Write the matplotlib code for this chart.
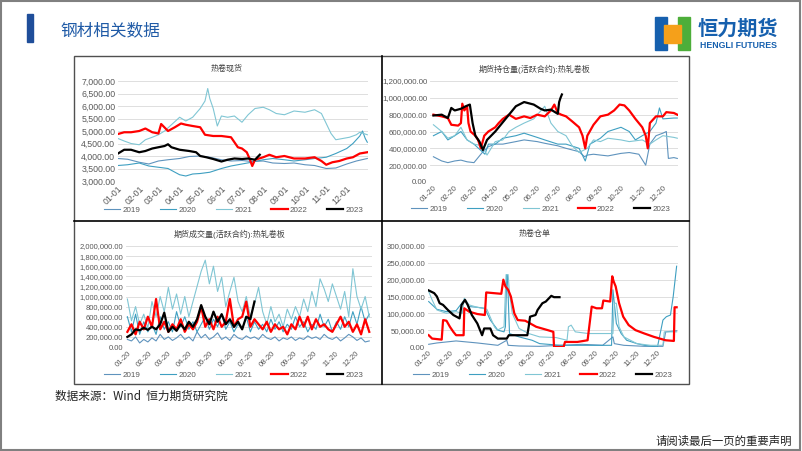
import numpy as np
import pandas as pd
import matplotlib
matplotlib.use('Agg')
import matplotlib.pyplot as plt
from matplotlib.patches import Rectangle
from matplotlib.lines import Line2D
from matplotlib.ticker import FuncFormatter

plt.rcParams['font.family'] = ['Liberation Sans', 'Noto Sans CJK SC', 'DejaVu Sans']

# ---------------- data ----------------
years = ['2019', '2020', '2021', '2022', '2023']

# 热卷现货 (元/吨)
spot_d19 = ['01-01','01-15','02-01','02-15','03-01','03-15','04-01','04-15','05-01','05-15','06-01','06-15',
            '07-01','07-15','08-01','08-15','09-01','09-15','10-01','10-15','11-01','11-15','12-01','12-15','12-31']
spot_v19 = [3900,3870,3750,3680,3800,3850,3900,3980,4000,3950,3850,3800,
            3820,3780,3800,3720,3700,3720,3650,3620,3500,3520,3680,3800,3900]
spot_d20 = ['01-01','01-15','02-01','02-15','03-01','03-15','04-01','04-10','04-20','05-01','05-15','06-01','06-15',
            '07-01','07-15','08-01','08-15','09-01','09-15','10-01','10-15','11-01','11-15','12-01','12-10','12-20',
            '12-24','12-28','12-31']
spot_v20 = [3620,3650,3720,3600,3550,3500,3250,3200,3280,3300,3350,3500,3600,
            3680,3750,3850,3900,3850,3800,3850,3900,3950,4100,4300,4500,4800,
            5000,4700,4550]
spot_d21 = ['01-01','01-10','01-20','02-01','02-10','02-20','03-01','03-10','03-20','04-01','04-10','04-20',
            '05-01','05-08','05-12','05-15','05-20','05-26','06-01','06-10','06-20','07-01','07-10','07-20',
            '08-01','08-10','08-20','09-01','09-15','10-01','10-15','10-25','11-01','11-08','11-15','11-25',
            '12-05','12-15','12-20','12-31']
spot_v21 = [4700,4600,4500,4450,4650,4750,4850,5000,5250,5550,5400,5550,
            5900,6200,6700,6300,5900,5200,5600,5550,5600,5350,5650,5900,
            5950,5850,5700,5650,5800,5750,5850,5700,5300,4900,4650,4700,
            4750,4850,4950,4850]
spot_d22 = ['01-01','01-10','01-20','02-01','02-10','02-20','03-01','03-05','03-15','03-25','04-03','04-10',
            '04-20','05-01','05-08','05-20','06-01','06-15','06-20','06-25','07-01','07-08','07-12','07-16',
            '07-20','08-01','08-10','08-20','09-01','09-15','10-01','10-15','10-25','11-01','11-10','11-20',
            '12-01','12-10','12-20','12-31']
spot_v22 = [4880,4950,4950,5000,5100,4950,4900,5280,5000,5150,5300,5250,
            5200,5150,4850,4800,4800,4750,4550,4350,4300,4150,3900,3600,
            3850,3950,4050,3950,4000,3900,3900,3950,3800,3650,3750,3800,
            3900,3950,4100,4150]
spot_d23 = ['01-01','01-10','01-20','02-01','02-10','02-20','03-01','03-10','03-15','03-20','04-01','04-15',
            '04-25','05-01','05-10','05-20','06-01','06-10','06-20','07-01','07-10','07-20','07-27']
spot_v23 = [4100,4250,4250,4150,4200,4300,4350,4400,4470,4350,4250,4200,
            4150,4000,3950,3880,3780,3850,3900,3880,3900,3850,4050]

# 期货持仓量 (千手)
oi_d19 = ['01-20','02-01','02-10','02-20','03-01','03-10','03-20','04-01','04-10','04-20','05-01','05-20',
          '06-01','06-20','07-01','07-20','08-01','08-20','08-28','09-01','09-10','09-20','10-01','10-20',
          '11-01','11-15','11-25','12-01','12-10','12-20','12-25','12-28','01-05','01-10']
oi_v19 = [300,250,230,250,260,240,230,350,420,450,450,480,
          500,480,460,430,400,360,300,320,330,320,310,340,
          350,330,200,450,550,580,600,280,290,280]
oi_d20 = ['01-20','02-01','02-10','02-20','03-01','03-10','03-20','04-05','04-10','04-20','05-01','05-20',
          '06-01','06-20','07-01','07-20','08-01','08-20','08-29','09-05','09-20','10-01','10-20','11-01',
          '11-10','11-20','12-01','12-10','12-15','12-20','01-05','01-10']
oi_v20 = [550,600,500,550,600,500,450,330,450,450,520,550,
          580,530,500,450,450,400,250,450,520,600,650,600,
          500,550,600,700,880,750,760,760]
oi_d21 = ['01-20','02-01','02-10','02-20','03-01','03-10','03-20','04-01','04-08','04-20','05-01','05-10',
          '05-20','06-01','06-15','07-01','07-10','07-20','08-01','08-10','08-20','09-01','09-10','09-20',
          '10-01','10-20','11-01','11-20','12-01','12-10','12-20','01-05','01-10']
oi_v21 = [680,600,520,550,650,500,450,430,320,480,500,600,
          650,700,750,900,700,600,550,430,350,400,500,480,
          520,500,480,500,450,500,550,530,520]
oi_d22 = ['01-20','02-01','02-10','02-15','02-25','03-01','03-03','03-06','03-10','03-12','03-15','03-22',
          '03-26','03-30','04-04','04-10','04-20','04-25','05-01','05-10','05-20','06-01','06-10','06-20',
          '07-01','07-10','07-15','07-20','07-25','08-01','08-10','08-20','08-25','08-29','09-01','09-10',
          '09-20','10-01','10-10','10-18','10-25','11-01','11-10','11-20','11-25','11-28','12-01','12-10',
          '12-20','12-25','01-05','01-10']
oi_v22 = [800,780,760,680,670,700,930,850,900,700,600,550,
          500,400,550,600,650,700,750,800,750,780,760,800,
          780,850,920,820,800,780,720,650,550,400,550,680,
          780,800,850,920,910,850,750,650,550,400,700,780,
          780,830,820,800]
oi_d23 = ['01-20','02-01','02-10','02-15','02-20','03-01','03-08','03-14','03-18','03-22','03-28','04-02',
          '04-08','04-20','04-30','05-10','05-15','05-20','06-01','06-15','06-25','07-01','07-10','07-18',
          '07-20','07-22','07-24','07-26']
oi_v23 = [790,800,760,880,850,870,900,920,700,550,480,380,
          500,600,700,800,850,900,950,920,870,850,860,820,
          810,950,1000,1040]

# 期货成交量 (千手), sampled every 6 days from 01-20
vol_start = '01-20'
vol_step = 6
vol_v19 = [150,120,200,80,150,100,180,120,250,150,200,130,180,250,150,200,120,300,180,250,
           150,200,280,150,200,130,250,180,150,220,170,200,150,250,180,150,200,120,180,150,
           200,130,180,150,220,170,200,150,250,180,150,200,120,180,250,200,130,180,100,120]
vol_v20 = [600,300,650,250,500,300,450,250,600,350,500,300,700,400,600,350,500,300,450,600,
           350,550,400,650,350,500,300,450,350,600,300,500,350,450,300,550,350,500,300,450,
           350,600,400,500,300,450,350,650,400,550,300,500,350,600,400,700,450,800,500,650]
vol_v21 = [950,520,800,450,650,380,900,600,1000,700,1180,750,1050,650,1000,600,900,1200,1500,1720,
           1250,1600,1100,1380,800,1100,1380,900,700,1000,600,850,1180,700,450,800,500,650,400,750,
           550,800,600,950,700,1100,800,1350,1150,900,1250,1000,750,1100,600,1550,1000,750,1000,600]
vol_v22 = [300,450,250,500,350,600,400,950,350,500,300,450,350,550,300,450,350,500,800,400,
           550,350,600,400,500,950,400,550,600,900,400,550,450,350,500,300,450,350,400,250,
           450,350,600,400,600,350,550,400,450,350,300,450,600,400,500,300,450,250,550,300]
vol_v23 = [200,250,350,330,380,340,400,350,450,680,300,400,320,450,350,500,400,550,830,600,
           450,700,500,650,450,550,400,500,350,600,550,900]

# 热卷仓单 (千吨)
wr_d19 = ['01-20','02-01','03-01','04-01','05-01','05-14','05-16','06-01','07-01','08-01','09-01','10-01',
          '10-16','10-18','11-01','12-01','12-28','01-01','01-17']
wr_v19 = [8,12,18,12,5,20,5,3,2,5,8,5,30,10,5,2,2,45,48]
wr_d20 = ['01-20','02-01','02-15','03-01','03-13','03-20','04-01','04-12','04-20','05-01','05-10','05-12',
          '05-14','05-15','05-18','06-01','06-20','07-01','08-01','09-01','10-01','10-14','10-16','10-18',
          '10-21','10-28','11-05','11-20','12-01','12-20','12-28','01-02','01-08','01-12','01-17']
wr_v20 = [135,112,105,108,140,120,118,115,80,50,45,60,
          215,210,40,30,20,10,5,5,5,5,170,130,
          70,40,20,10,5,0,80,90,95,150,240]
wr_d21 = ['01-20','01-25','02-01','02-15','03-01','03-10','03-13','03-20','04-01','04-15','04-26','04-30',
          '05-10','05-13','05-16','05-18','05-22','06-01','06-15','07-01','07-25','08-10','08-12','08-16',
          '08-22','09-10','10-01','10-16','10-18','10-21','10-25','11-01','11-20','12-10','12-28','12-30','01-17']
wr_v21 = [165,140,110,100,105,100,145,125,118,112,60,50,
          60,215,215,160,100,55,40,30,28,20,60,65,
          45,40,40,40,130,130,60,30,10,5,5,45,45]
wr_d22 = ['01-20','01-25','02-08','02-10','02-15','02-20','02-25','03-01','03-12','03-13','03-20','04-01',
          '04-12','04-14','04-25','05-06','05-09','05-12','05-16','05-20','05-25','05-30','06-10','06-26',
          '07-13','07-21','07-22','08-05','08-07','08-25','09-09','09-15','09-22','09-30','10-02','10-12',
          '10-15','10-17','10-20','10-25','10-31','11-08','11-18','12-01','12-15','01-01','01-13','01-14','01-17']
wr_v22 = [35,25,22,80,78,60,45,35,35,115,105,98,
          95,162,160,158,200,180,170,150,100,80,78,60,
          50,45,0,0,15,15,20,120,115,115,138,135,
          210,195,180,130,90,65,50,40,30,20,18,118,118]
wr_d23 = ['01-20','01-28','02-01','02-05','02-10','02-17','02-25','03-06','03-09','03-14','03-18','03-24',
          '04-01','04-08','04-11','04-20','04-24','05-01','05-14','05-17','06-01','06-13','06-15','06-17',
          '06-25','06-28','07-05','07-10','07-18','07-22','07-30']
wr_v23 = [168,160,150,130,125,110,95,85,125,140,125,95,
          70,35,55,55,35,25,25,35,35,35,60,90,
          95,110,130,135,152,148,148]

tl_ticks = ['01-01','02-01','03-01','04-01','05-01','06-01','07-01','08-01','09-01','10-01','11-01','12-01']
md_ticks = ['01-20','02-20','03-20','04-20','05-20','06-20','07-20','08-20','09-20','10-20','11-20','12-20']

# ---------------- helpers ----------------
W, H = 802, 451
colors = {'2019': '#5F93BD', '2020': '#3E9FC1', '2021': '#80C6D4', '2022': '#FF0000', '2023': '#000000'}
widths = {'2019': 0.8, '2020': 0.8, '2021': 0.8, '2022': 1.6, '2023': 1.6}


def to_days(dates):
    out = []
    for s in dates:
        d = pd.Timestamp('2001-' + s).dayofyear - 1
        if out and d < out[-1] - 180:
            d += 365
        out.append(d)
    return np.array(out)


def add_ax(l, t, r, b):
    return fig.add_axes([l / W, 1 - b / H, (r - l) / W, (b - t) / H])


def style(ax, ymax, ystep, ticks, xlim, fs):
    ax.set_ylim(0 if ymax > 10000 else 3000, ymax)
    lo = ax.get_ylim()[0]
    ax.set_yticks(np.arange(lo, ymax + 1, ystep))
    ax.yaxis.set_major_formatter(FuncFormatter(lambda v, p: f'{v:,.2f}'))
    ax.set_xlim(*xlim)
    ax.set_xticks(to_days(ticks))
    ax.set_xticklabels(ticks, rotation=45, ha='right', rotation_mode='anchor')
    ax.grid(axis='y', color='#D9D9D9', lw=0.6)
    ax.set_axisbelow(True)
    for s in ax.spines.values():
        s.set_visible(False)
    ax.tick_params(length=0, labelsize=fs, colors='#595959', pad=2)


def legend(ax, cx, cy):
    ax.legend(loc='center', bbox_to_anchor=(cx / W, 1 - cy / H), bbox_transform=fig.transFigure,
              ncol=5, frameon=False, fontsize=5.8, handlelength=2.0, handletextpad=0.3,
              columnspacing=2.4, labelcolor='#595959')


fig = plt.figure(figsize=(W / 100, H / 100), dpi=100)

# ---------------- 热卷现货 ----------------
ax1 = add_ax(118, 81, 368, 181)
for y, d, v in zip(years, [spot_d19, spot_d20, spot_d21, spot_d22, spot_d23],
                   [spot_v19, spot_v20, spot_v21, spot_v22, spot_v23]):
    ax1.plot(to_days(d), v, color=colors[y], lw=widths[y], label=y)
style(ax1, 7000, 500, tl_ticks, (0, 365), 6.3)
fig.text(227 / W, 1 - 69 / H, '热卷现货', ha='center', va='center', fontsize=5.8, color='#404040')
legend(ax1, 234, 210)

# ---------------- 持仓量 ----------------
ax2 = add_ax(430, 81, 678, 182)
for y, d, v in zip(years, [oi_d19, oi_d20, oi_d21, oi_d22, oi_d23],
                   [oi_v19, oi_v20, oi_v21, oi_v22, oi_v23]):
    ax2.plot(to_days(d), np.array(v) * 1000, color=colors[y], lw=widths[y], label=y)
style(ax2, 1200000, 200000, md_ticks, (14, 375), 5.7)
fig.text(535 / W, 1 - 69 / H, '期货持仓量(活跃合约):热轧卷板', ha='center', va='center', fontsize=5.8, color='#404040')
legend(ax2, 541, 209)

# ---------------- 成交量 ----------------
ax3 = add_ax(126, 246, 372, 347)
d0 = to_days([vol_start])[0]
for y, v in zip(years, [vol_v19, vol_v20, vol_v21, vol_v22, vol_v23]):
    x = d0 + vol_step * np.arange(len(v))
    ax3.plot(x, np.array(v) * 1000, color=colors[y], lw=widths[y], label=y)
style(ax3, 2000000, 200000, md_ticks, (17, 377), 5.5)
fig.text(230 / W, 1 - 234 / H, '期货成交量(活跃合约):热轧卷板', ha='center', va='center', fontsize=5.8, color='#404040')
legend(ax3, 234, 375)

# ---------------- 仓单 ----------------
ax4 = add_ax(428, 246, 678, 347)
for y, d, v in zip(years, [wr_d19, wr_d20, wr_d21, wr_d22, wr_d23],
                   [wr_v19, wr_v20, wr_v21, wr_v22, wr_v23]):
    ax4.plot(to_days(d), np.array(v) * 1000, color=colors[y], lw=widths[y], label=y)
style(ax4, 300000, 50000, md_ticks, (18, 383), 5.7)
fig.text(535 / W, 1 - 234 / H, '热卷仓单', ha='center', va='center', fontsize=5.8, color='#404040')
legend(ax4, 543, 375)

# ---------------- frame & decorations ----------------
tf = fig.transFigure
fig.add_artist(Rectangle((74 / W, 1 - 384 / H), (689 - 74) / W, (384 - 56) / H, fill=False,
                         ec='#505050', lw=1.0, transform=tf))
fig.add_artist(Line2D([382 / W, 382 / W], [1 - 56 / H, 1 - 384 / H], color='black', lw=1.2, transform=tf))
fig.add_artist(Line2D([74 / W, 689 / W], [1 - 221 / H, 1 - 221 / H], color='black', lw=1.2, transform=tf))
fig.add_artist(Rectangle((0.001, 0.002), 0.997, 0.996, fill=False, ec='#808080', lw=1.5, transform=tf))

# header
fig.add_artist(Rectangle((27 / W, 1 - 42 / H), 6 / W, 28 / H, color='#1F4E9A', transform=tf))
fig.text(60 / W, 1 - 31 / H, '钢材相关数据', ha='left', va='center', fontsize=12,
         color='#1F5AA6', family=['Noto Sans CJK SC'])
fig.add_artist(Rectangle((655 / W, 1 - 50 / H), 12 / W, 33 / H, color='#1660AE', transform=tf))
fig.add_artist(Rectangle((678 / W, 1 - 50 / H), 12 / W, 33 / H, color='#4DAE3A', transform=tf))
fig.add_artist(Rectangle((664 / W, 1 - 43 / H), 17 / W, 18 / H, color='#F5A01A', transform=tf))
fig.text(738 / W, 1 - 28 / H, '恒力期货', ha='center', va='center', fontsize=14.5, fontweight='bold',
         color='#1660AE', family=['Noto Sans CJK SC'])
fig.text(738 / W, 1 - 45 / H, 'HENGLI FUTURES', ha='center', va='center', fontsize=6.3, fontweight='bold',
         color='#1660AE')

# footer
fig.text(55 / W, 1 - 396 / H, '数据来源：Wind  恒力期货研究院', ha='left', va='center', fontsize=8.4,
         color='#222222', family=['Noto Sans CJK SC', 'DejaVu Sans'])
fig.text(792 / W, 1 - 441 / H, '请阅读最后一页的重要声明', ha='right', va='center', fontsize=8.2,
         color='#222222', family=['Noto Sans CJK SC'])

fig.savefig('out.png', dpi=100)
